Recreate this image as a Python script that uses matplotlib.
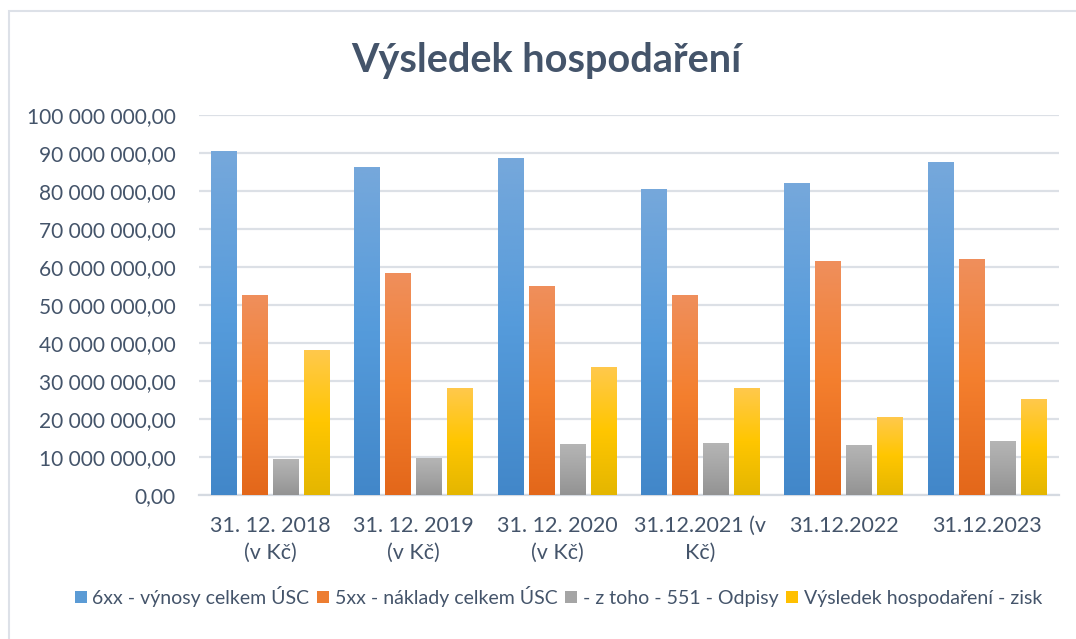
import matplotlib
matplotlib.use("Agg")
import matplotlib.pyplot as plt
import numpy as np
from matplotlib.colors import LinearSegmentedColormap
from matplotlib.patches import Patch, Rectangle
from matplotlib.ticker import FuncFormatter, MultipleLocator

categories = ["31. 12. 2018\n(v Kč)", "31. 12. 2019\n(v Kč)", "31. 12. 2020\n(v Kč)",
              "31.12.2021 (v\nKč)", "31.12.2022", "31.12.2023"]
vynosy = [90.35e6, 86.1e6, 88.5e6, 80.4e6, 81.9e6, 87.5e6]
naklady = [52.5e6, 58.2e6, 54.8e6, 52.5e6, 61.4e6, 61.9e6]
odpisy = [9.3e6, 9.6e6, 13.2e6, 13.5e6, 13.0e6, 14.0e6]
zisk = [38.0e6, 28.0e6, 33.5e6, 28.0e6, 20.4e6, 25.1e6]
series_names = ["6xx - výnosy celkem ÚSC", "5xx - náklady celkem ÚSC",
                "- z toho - 551 - Odpisy", "Výsledek hospodaření - zisk"]
title = "Výsledek hospodaření"

# gradients: bottom, middle, top
grads = [
    ["#4287C9", "#559BDB", "#76A8DB"],
    ["#E3671A", "#F47F2E", "#EF8F5C"],
    ["#939393", "#A5A5A5", "#B5B5B5"],
    ["#E4B600", "#FFC600", "#FFC94C"],
]
legend_cols = ["#5B9BD5", "#ED7D31", "#A5A5A5", "#FFC000"]

txt = "#44546A"
plt.rcParams['font.family'] = ['Lato', 'DejaVu Sans']

fig = plt.figure(figsize=(10.76, 6.39), dpi=100)
ax = fig.add_axes([0.1848, 0.225, 0.9839 - 0.1848, 0.8195 - 0.225])

data = [vynosy, naklady, odpisy, zisk]
x = np.arange(len(categories))
step = 0.2163
w = 0.1814
grad_img = np.linspace(0, 1, 256).reshape(-1, 1)
for i, vals in enumerate(data):
    cmap = LinearSegmentedColormap.from_list(f"g{i}", grads[i])
    off = (i - 1.5) * step
    for xi, v in zip(x, vals):
        x0 = xi + off - w / 2
        ax.imshow(grad_img, cmap=cmap, origin="lower", aspect="auto",
                  extent=[x0, x0 + w, 0, v], zorder=3, interpolation="bilinear")

ax.set_xlim(-0.5, len(categories) - 0.5)
ax.set_ylim(0, 100e6)
ax.yaxis.set_major_locator(MultipleLocator(10e6))
ax.yaxis.set_major_formatter(FuncFormatter(lambda v, p: f"{v:,.2f}".replace(",", " ").replace(".", ",")))
ax.set_xticks(x)
ax.set_xticklabels(categories)
ax.tick_params(axis="x", length=0, labelsize=15.5, colors=txt, pad=15)
ax.tick_params(axis="y", length=0, labelsize=15, colors=txt, pad=16.5)
for lbl in ax.get_xticklabels():
    lbl.set_linespacing(1.45)
    lbl.set_verticalalignment("top")

ax.grid(axis="y", color="#DCE0E6", linewidth=1.6, zorder=0)
ax.set_axisbelow(True)
for s in ["top", "right", "left"]:
    ax.spines[s].set_visible(False)
ax.spines["bottom"].set_color("#D5DAE1")
ax.spines["bottom"].set_linewidth(1.6)

fig.text(0.5075, 0.905, title, ha="center", va="center", fontsize=28.5,
         fontweight="bold", color=txt)

handles = [Patch(facecolor=c, edgecolor="none") for c in legend_cols]
fig.legend(handles, series_names, loc="center", bbox_to_anchor=(0.519, 0.067),
           ncol=4, frameon=False, fontsize=14, labelcolor=txt,
           handlelength=0.6, handleheight=0.6, handletextpad=0.3, columnspacing=0.4)

# chart area border (left/top visible)
fig.add_artist(Rectangle((8.5 / 1076, -0.05), 1.2, 1.05 - 10.5 / 639,
                         transform=fig.transFigure, fill=False,
                         edgecolor="#DDE1E8", linewidth=1.5))

fig.savefig("out.png", dpi=100)
